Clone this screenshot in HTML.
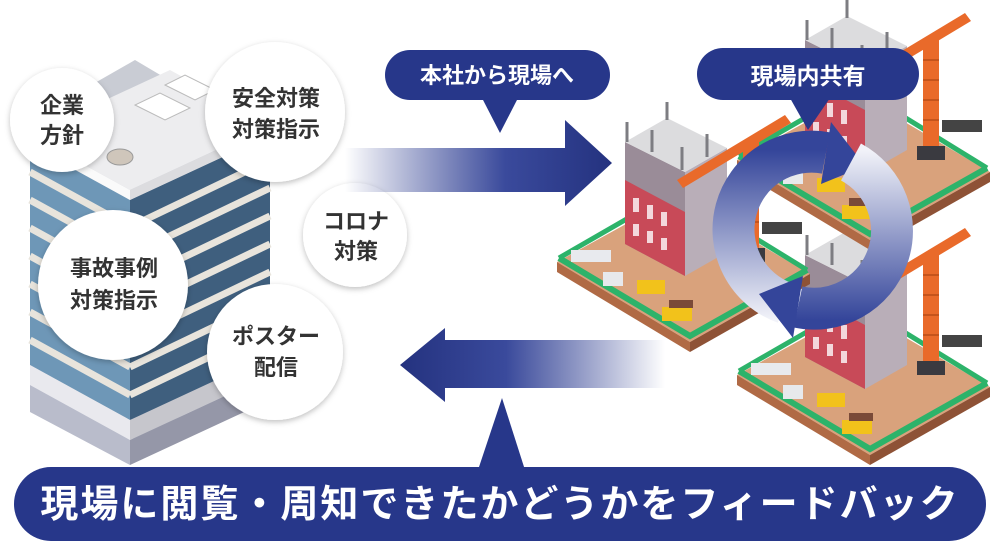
<!DOCTYPE html>
<html><head><meta charset="utf-8"><style>
body{margin:0;width:1000px;height:550px;overflow:hidden;background:#fff;font-family:"Liberation Sans","Noto Sans CJK JP",sans-serif}
svg text{font-family:"Liberation Sans","Noto Sans CJK JP",sans-serif}
</style></head><body>
<svg width="1000" height="550" viewBox="0 0 1000 550" xmlns="http://www.w3.org/2000/svg">
<defs>
<linearGradient id="ar" x1="0" x2="1"><stop offset="0" stop-color="#2b3a8c" stop-opacity="0"/><stop offset="0.6" stop-color="#3a4a9c"/><stop offset="1" stop-color="#24327f"/></linearGradient>
<linearGradient id="al" x1="1" x2="0"><stop offset="0" stop-color="#2b3a8c" stop-opacity="0"/><stop offset="0.6" stop-color="#3a4a9c"/><stop offset="1" stop-color="#24327f"/></linearGradient>
<linearGradient id="cL" gradientUnits="userSpaceOnUse" x1="0" y1="320" x2="0" y2="150"><stop offset="0" stop-color="#f2f3f9"/><stop offset="1" stop-color="#34459a"/></linearGradient>
<linearGradient id="cR" gradientUnits="userSpaceOnUse" x1="0" y1="150" x2="0" y2="320"><stop offset="0" stop-color="#f2f3f9"/><stop offset="1" stop-color="#34459a"/></linearGradient>
<filter id="sh" x="-20%" y="-20%" width="140%" height="140%"><feDropShadow dx="0" dy="2" stdDeviation="3" flood-color="#000" flood-opacity="0.25"/></filter>
<g id="site">
 <polygon points="0,0 133,80 253,12 120,-66" fill="#d9a27c"/>
 <polygon points="0,0 133,80 133,90 0,10" fill="#b06a45"/>
 <polygon points="133,80 253,12 253,22 133,90" fill="#8e5236"/>
 <polyline points="2,-4 133,74 250,8" fill="none" stroke="#2db36a" stroke-width="6"/>
 <polyline points="2,-4 120,-72 250,8" fill="none" stroke="#2db36a" stroke-width="5"/>
 <polygon points="68,-18 128,14 128,-90 68,-120" fill="#9a8c98"/>
 <polygon points="128,14 170,-10 170,-114 128,-90" fill="#b9aeb8"/>
 <polygon points="68,-18 128,14 128,-50 68,-82" fill="#c84a58"/>
 <g fill="#f3d8dc"><rect x="76" y="-64" width="6" height="14"/><rect x="90" y="-57" width="6" height="14"/><rect x="104" y="-50" width="6" height="14"/><rect x="76" y="-38" width="6" height="12"/><rect x="90" y="-31" width="6" height="12"/><rect x="104" y="-24" width="6" height="12"/></g>
 <polygon points="68,-120 128,-90 170,-114 110,-144" fill="#dcdcde"/>
 <g stroke="#7d7d82" stroke-width="3"><line x1="70" y1="-120" x2="70" y2="-140"/><line x1="95" y1="-110" x2="95" y2="-132"/><line x1="125" y1="-92" x2="125" y2="-115"/><line x1="150" y1="-105" x2="150" y2="-128"/><line x1="110" y1="-142" x2="110" y2="-160"/></g>
 <rect x="80" y="18" width="28" height="14" fill="#f2c21b"/>
 <rect x="105" y="45" width="30" height="14" fill="#f2c21b"/>
 <rect x="112" y="38" width="24" height="8" fill="#7a4a38"/>
 <rect x="14" y="-12" width="40" height="12" fill="#e8eaee"/>
 <rect x="46" y="10" width="20" height="14" fill="#e7e9ec"/>
 <rect x="186" y="-120" width="16" height="110" fill="#e96a2a"/>
 <g stroke="#b94d18" stroke-width="1.5"><line x1="186" y1="-100" x2="202" y2="-100"/><line x1="186" y1="-80" x2="202" y2="-80"/><line x1="186" y1="-60" x2="202" y2="-60"/><line x1="186" y1="-40" x2="202" y2="-40"/></g>
 <rect x="180" y="-14" width="28" height="14" fill="#3a3a40"/>
 <polygon points="120,-82 228,-147 234,-139 126,-74" fill="#e96a2a"/>
 <rect x="205" y="-40" width="40" height="12" fill="#444"/>
</g>
</defs>

<polygon points="30,120 135,60 270,140 270,370 135,440 30,380" fill="#c9ccd4"/>
<polygon points="30,145 130,200 130,420 30,365" fill="#6e97b7"/>
<polygon points="130,200 270,135 270,365 130,420" fill="#3f5f7e"/>
<g stroke="#e8e4dc" stroke-width="7">
<line x1="30" y1="172" x2="130" y2="227"/><line x1="130" y1="227" x2="270" y2="160"/>
<line x1="30" y1="200" x2="130" y2="255"/><line x1="130" y1="255" x2="270" y2="188"/>
<line x1="30" y1="228" x2="130" y2="283"/><line x1="130" y1="283" x2="270" y2="216"/>
<line x1="30" y1="256" x2="130" y2="311"/><line x1="130" y1="311" x2="270" y2="244"/>
<line x1="30" y1="284" x2="130" y2="339"/><line x1="130" y1="339" x2="270" y2="272"/>
<line x1="30" y1="312" x2="130" y2="367"/><line x1="130" y1="367" x2="270" y2="300"/>
<line x1="30" y1="340" x2="130" y2="395"/><line x1="130" y1="395" x2="270" y2="328"/>
</g>
<polygon points="30,365 130,420 130,440 30,385" fill="#e9e9ee"/>
<polygon points="130,420 270,355 270,375 130,440" fill="#c6c6cc"/>
<polygon points="30,385 130,440 130,465 30,412" fill="#b9bccb"/>
<polygon points="130,440 270,375 270,400 130,465" fill="#9597a8"/>
<polygon points="30,135 130,190 270,125 170,70" fill="#ededef"/>
<polygon points="30,135 130,190 130,200 30,145" fill="#fafafa"/>
<polygon points="130,190 270,125 270,135 130,200" fill="#dcdcdf"/>
<polygon points="135,105 165,120 190,108 160,93" fill="#fff" stroke="#bbb"/>
<polygon points="165,85 195,100 215,90 185,75" fill="#fff" stroke="#bbb"/>
<ellipse cx="120" cy="157" rx="13" ry="8" fill="#cfc6bb" stroke="#999"/>

<g filter="url(#sh)" fill="#fff">
<circle cx="62" cy="120" r="52"/><circle cx="275" cy="112" r="70"/><circle cx="355" cy="235" r="52"/><circle cx="113" cy="285" r="75"/><circle cx="275" cy="352" r="68"/>
</g>
<g fill="#333" font-size="22" text-anchor="middle" font-weight="bold">
<text x="62" y="113">企業</text><text x="62" y="143">方針</text>
<text x="276" y="106">安全対策</text><text x="276" y="137">対策指示</text>
<text x="356" y="229">コロナ</text><text x="356" y="259">対策</text>
<text x="114" y="276">事故事例</text><text x="114" y="308">対策指示</text>
<text x="276" y="344">ポスター</text><text x="276" y="375">配信</text>
</g>

<use href="#site" transform="translate(737,375)"/>
<use href="#site" transform="translate(737,160)"/>
<use href="#site" transform="translate(557,262)"/>

<polygon points="345,148 565,148 565,120 612,163 565,206 565,192 345,192" fill="url(#ar)"/>
<polygon points="665,340 445,340 445,328 400,365 445,402 445,388 665,388" fill="url(#al)"/>

<path d="M785,303 A78,78 0 0 1 826,153" fill="none" stroke="url(#cL)" stroke-width="42"/>
<polygon points="821,184 831,122 865,166" fill="#34459a"/>
<path d="M851,162 A78,78 0 0 1 798,307" fill="none" stroke="url(#cR)" stroke-width="42"/>
<polygon points="803,276 793,338 759,294" fill="#34459a"/>

<rect x="385" y="50" width="225" height="50" rx="25" fill="#27378a"/>
<polygon points="482,98 518,98 500,133" fill="#27378a"/>
<text x="497" y="83" fill="#fff" font-size="22" font-weight="bold" text-anchor="middle">本社から現場へ</text>
<rect x="697" y="48" width="222" height="52" rx="26" fill="#27378a"/>
<polygon points="790,98 830,98 808,130" fill="#27378a"/>
<text x="808" y="84" fill="#fff" font-size="23" font-weight="bold" text-anchor="middle">現場内共有</text>

<polygon points="478,470 525,470 502,398" fill="#27378a"/>
<rect x="14" y="467" width="972" height="74" rx="37" fill="#27378a"/>
<text x="500" y="517" fill="#fff" font-size="38" letter-spacing="2" font-weight="bold" text-anchor="middle">現場に閲覧・周知できたかどうかをフィードバック</text>
</svg>
</body></html>
